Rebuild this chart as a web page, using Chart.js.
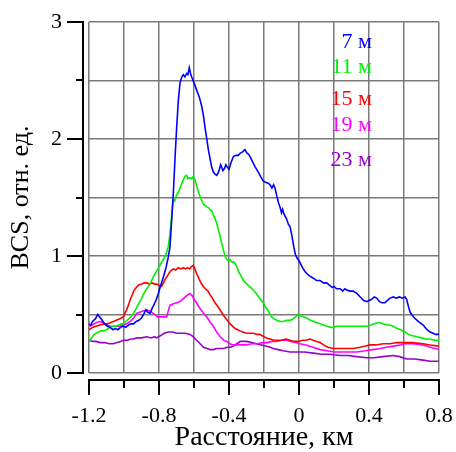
<!DOCTYPE html>
<html>
<head>
<meta charset="utf-8">
<script src="https://cdn.jsdelivr.net/npm/chart.js@4/dist/chart.umd.min.js"></script>
<style>
  body { margin: 0; background: #fff; }
  canvas { display: block; }
</style>
</head>
<body>
<canvas id="bcsChart" width="456" height="452"></canvas>
<script>
// depth labels for each curve
const depthLabels = ["7 м", "11 м", "15 м", "19 м", "23 м"];
const depthColors = ["#0000ff", "#00f000", "#ff0000", "#ff00ff", "#9900cc"];

// distance, km / BCS values
const x7 = [-1.2, -1.19, -1.18, -1.165, -1.15, -1.14, -1.125, -1.11, -1.095, -1.08, -1.063, -1.05, -1.035, -1.02, -1.006, -0.99, -0.975, -0.96, -0.945, -0.93, -0.915, -0.9, -0.885, -0.875, -0.865, -0.851, -0.84, -0.83, -0.815, -0.804, -0.79, -0.775, -0.76, -0.747, -0.737, -0.728, -0.718, -0.708, -0.699, -0.69, -0.68, -0.67, -0.661, -0.652, -0.642, -0.635, -0.627, -0.62, -0.613, -0.6, -0.585, -0.57, -0.556, -0.546, -0.537, -0.527, -0.518, -0.508, -0.499, -0.49, -0.48, -0.47, -0.462, -0.455, -0.448, -0.442, -0.435, -0.425, -0.418, -0.41, -0.4, -0.39, -0.375, -0.36, -0.347, -0.335, -0.322, -0.309, -0.298, -0.288, -0.28, -0.27, -0.26, -0.25, -0.242, -0.23, -0.22, -0.204, -0.19, -0.175, -0.166, -0.155, -0.145, -0.137, -0.128, -0.118, -0.109, -0.1, -0.094, -0.086, -0.072, -0.06, -0.051, -0.04, -0.03, -0.02, -0.01, 0.0, 0.01, 0.02, 0.033, 0.044, 0.06, 0.07, 0.082, 0.1, 0.12, 0.14, 0.158, 0.175, 0.19, 0.2, 0.215, 0.235, 0.25, 0.262, 0.273, 0.29, 0.31, 0.33, 0.35, 0.37, 0.387, 0.4, 0.415, 0.43, 0.444, 0.46, 0.475, 0.491, 0.505, 0.52, 0.539, 0.555, 0.575, 0.59, 0.606, 0.615, 0.625, 0.635, 0.644, 0.66, 0.675, 0.69, 0.71, 0.725, 0.74, 0.749, 0.765, 0.78, 0.8];
const y7 = [0.42, 0.41, 0.44, 0.46, 0.50, 0.48, 0.45, 0.42, 0.40, 0.39, 0.37, 0.38, 0.37, 0.39, 0.40, 0.39, 0.41, 0.42, 0.42, 0.44, 0.45, 0.47, 0.51, 0.54, 0.52, 0.51, 0.55, 0.58, 0.63, 0.68, 0.75, 0.82, 0.90, 0.99, 1.08, 1.30, 1.54, 1.85, 2.10, 2.32, 2.48, 2.53, 2.55, 2.53, 2.56, 2.55, 2.61, 2.56, 2.53, 2.48, 2.42, 2.36, 2.28, 2.20, 2.10, 2.00, 1.91, 1.83, 1.76, 1.72, 1.70, 1.69, 1.71, 1.74, 1.78, 1.76, 1.73, 1.75, 1.78, 1.76, 1.74, 1.79, 1.85, 1.86, 1.86, 1.88, 1.89, 1.91, 1.88, 1.87, 1.85, 1.82, 1.79, 1.76, 1.74, 1.71, 1.68, 1.64, 1.63, 1.62, 1.61, 1.58, 1.61, 1.58, 1.52, 1.46, 1.42, 1.37, 1.40, 1.36, 1.32, 1.27, 1.25, 1.17, 1.08, 1.01, 0.98, 0.96, 0.93, 0.90, 0.87, 0.85, 0.83, 0.82, 0.81, 0.79, 0.79, 0.77, 0.77, 0.75, 0.73, 0.74, 0.72, 0.72, 0.70, 0.72, 0.71, 0.70, 0.70, 0.68, 0.65, 0.62, 0.61, 0.62, 0.63, 0.65, 0.64, 0.61, 0.60, 0.60, 0.62, 0.64, 0.65, 0.64, 0.65, 0.64, 0.65, 0.63, 0.57, 0.52, 0.50, 0.47, 0.45, 0.43, 0.41, 0.38, 0.36, 0.35, 0.34, 0.33, 0.33];

const x11 = [-1.2, -1.185, -1.17, -1.147, -1.13, -1.115, -1.1, -1.08, -1.061, -1.045, -1.03, -1.015, -1.004, -0.99, -0.975, -0.96, -0.947, -0.935, -0.92, -0.905, -0.89, -0.878, -0.865, -0.852, -0.842, -0.83, -0.818, -0.806, -0.794, -0.785, -0.775, -0.762, -0.747, -0.738, -0.73, -0.724, -0.718, -0.71, -0.7, -0.69, -0.68, -0.67, -0.661, -0.652, -0.642, -0.635, -0.625, -0.613, -0.604, -0.594, -0.585, -0.575, -0.566, -0.555, -0.545, -0.535, -0.527, -0.515, -0.505, -0.499, -0.49, -0.48, -0.47, -0.46, -0.45, -0.442, -0.432, -0.422, -0.413, -0.404, -0.394, -0.385, -0.375, -0.366, -0.356, -0.347, -0.335, -0.318, -0.305, -0.29, -0.275, -0.261, -0.245, -0.23, -0.215, -0.204, -0.19, -0.175, -0.165, -0.156, -0.14, -0.125, -0.109, -0.09, -0.07, -0.051, -0.035, -0.02, -0.004, 0.01, 0.025, 0.044, 0.065, 0.085, 0.1, 0.12, 0.14, 0.16, 0.18, 0.196, 0.215, 0.235, 0.255, 0.273, 0.3, 0.33, 0.36, 0.387, 0.41, 0.43, 0.45, 0.463, 0.48, 0.5, 0.52, 0.539, 0.56, 0.58, 0.606, 0.625, 0.645, 0.673, 0.7, 0.725, 0.749, 0.775, 0.8];
const y11 = [0.27, 0.30, 0.33, 0.35, 0.36, 0.36, 0.37, 0.39, 0.40, 0.40, 0.41, 0.42, 0.42, 0.44, 0.46, 0.48, 0.51, 0.54, 0.58, 0.62, 0.67, 0.70, 0.73, 0.76, 0.79, 0.83, 0.86, 0.89, 0.92, 0.95, 0.97, 1.01, 1.08, 1.18, 1.30, 1.40, 1.48, 1.47, 1.52, 1.54, 1.58, 1.62, 1.65, 1.68, 1.69, 1.66, 1.67, 1.66, 1.68, 1.65, 1.60, 1.55, 1.51, 1.47, 1.44, 1.43, 1.42, 1.41, 1.39, 1.39, 1.35, 1.32, 1.28, 1.22, 1.16, 1.11, 1.05, 1.00, 0.97, 0.96, 0.97, 0.95, 0.95, 0.94, 0.91, 0.87, 0.84, 0.79, 0.77, 0.75, 0.73, 0.71, 0.68, 0.65, 0.62, 0.60, 0.56, 0.53, 0.50, 0.48, 0.46, 0.45, 0.44, 0.44, 0.45, 0.45, 0.46, 0.48, 0.50, 0.49, 0.48, 0.47, 0.45, 0.44, 0.43, 0.42, 0.41, 0.40, 0.39, 0.39, 0.40, 0.40, 0.40, 0.40, 0.40, 0.40, 0.40, 0.40, 0.41, 0.42, 0.43, 0.43, 0.42, 0.41, 0.41, 0.40, 0.38, 0.37, 0.35, 0.33, 0.32, 0.31, 0.30, 0.29, 0.29, 0.28, 0.28];

const x15 = [-1.2, -1.18, -1.16, -1.137, -1.115, -1.095, -1.08, -1.061, -1.045, -1.03, -1.015, -1.004, -0.995, -0.985, -0.975, -0.966, -0.955, -0.945, -0.93, -0.918, -0.9, -0.885, -0.87, -0.855, -0.84, -0.825, -0.813, -0.8, -0.785, -0.775, -0.765, -0.756, -0.74, -0.728, -0.718, -0.705, -0.69, -0.675, -0.661, -0.648, -0.635, -0.625, -0.615, -0.604, -0.595, -0.585, -0.57, -0.56, -0.547, -0.535, -0.52, -0.509, -0.495, -0.48, -0.465, -0.451, -0.435, -0.42, -0.405, -0.394, -0.38, -0.365, -0.35, -0.337, -0.32, -0.3, -0.28, -0.26, -0.24, -0.225, -0.213, -0.2, -0.185, -0.165, -0.145, -0.127, -0.1, -0.075, -0.051, -0.03, -0.01, 0.0, 0.02, 0.04, 0.063, 0.08, 0.1, 0.12, 0.14, 0.165, 0.196, 0.23, 0.27, 0.31, 0.35, 0.38, 0.406, 0.44, 0.48, 0.52, 0.56, 0.606, 0.65, 0.71, 0.75, 0.8];
const y15 = [0.37, 0.39, 0.40, 0.41, 0.42, 0.42, 0.43, 0.44, 0.45, 0.46, 0.47, 0.48, 0.51, 0.54, 0.58, 0.62, 0.66, 0.70, 0.73, 0.75, 0.76, 0.77, 0.77, 0.76, 0.77, 0.76, 0.76, 0.75, 0.74, 0.77, 0.80, 0.82, 0.86, 0.88, 0.89, 0.88, 0.90, 0.89, 0.90, 0.89, 0.90, 0.89, 0.91, 0.92, 0.89, 0.85, 0.80, 0.77, 0.74, 0.72, 0.70, 0.67, 0.64, 0.60, 0.57, 0.54, 0.50, 0.47, 0.44, 0.42, 0.40, 0.38, 0.37, 0.36, 0.35, 0.34, 0.34, 0.34, 0.33, 0.33, 0.32, 0.31, 0.30, 0.29, 0.28, 0.28, 0.28, 0.29, 0.28, 0.27, 0.27, 0.27, 0.28, 0.28, 0.29, 0.28, 0.27, 0.26, 0.24, 0.22, 0.21, 0.21, 0.21, 0.21, 0.22, 0.23, 0.24, 0.24, 0.25, 0.25, 0.26, 0.26, 0.26, 0.25, 0.24, 0.23];

const x19 = [-1.2, -1.18, -1.16, -1.137, -1.12, -1.1, -1.08, -1.06, -1.04, -1.023, -1.005, -0.985, -0.966, -0.95, -0.94, -0.928, -0.91, -0.89, -0.87, -0.855, -0.842, -0.825, -0.81, -0.795, -0.775, -0.756, -0.747, -0.737, -0.72, -0.7, -0.68, -0.665, -0.65, -0.635, -0.623, -0.61, -0.6, -0.585, -0.57, -0.555, -0.54, -0.527, -0.51, -0.49, -0.47, -0.45, -0.43, -0.413, -0.395, -0.375, -0.356, -0.33, -0.299, -0.27, -0.24, -0.204, -0.18, -0.155, -0.127, -0.1, -0.07, -0.045, -0.02, 0.006, 0.04, 0.08, 0.12, 0.16, 0.2, 0.234, 0.28, 0.33, 0.38, 0.42, 0.463, 0.5, 0.54, 0.58, 0.606, 0.65, 0.71, 0.75, 0.8];
const y19 = [0.40, 0.41, 0.43, 0.44, 0.43, 0.41, 0.40, 0.40, 0.40, 0.40, 0.41, 0.42, 0.44, 0.46, 0.48, 0.51, 0.52, 0.53, 0.54, 0.53, 0.52, 0.50, 0.48, 0.48, 0.48, 0.48, 0.53, 0.58, 0.59, 0.60, 0.61, 0.63, 0.65, 0.67, 0.68, 0.66, 0.63, 0.60, 0.56, 0.53, 0.50, 0.48, 0.44, 0.40, 0.35, 0.31, 0.28, 0.27, 0.25, 0.24, 0.24, 0.24, 0.24, 0.25, 0.25, 0.26, 0.26, 0.27, 0.27, 0.28, 0.28, 0.27, 0.26, 0.25, 0.24, 0.22, 0.20, 0.19, 0.18, 0.18, 0.18, 0.18, 0.19, 0.20, 0.21, 0.22, 0.23, 0.24, 0.25, 0.25, 0.24, 0.22, 0.20];

const x23 = [-1.2, -1.18, -1.16, -1.137, -1.11, -1.085, -1.061, -1.04, -1.02, -1.004, -0.98, -0.96, -0.947, -0.925, -0.9, -0.87, -0.845, -0.825, -0.813, -0.79, -0.77, -0.747, -0.72, -0.7, -0.68, -0.65, -0.623, -0.605, -0.585, -0.565, -0.545, -0.525, -0.509, -0.49, -0.47, -0.45, -0.432, -0.41, -0.39, -0.375, -0.355, -0.335, -0.318, -0.3, -0.27, -0.242, -0.215, -0.19, -0.165, -0.147, -0.12, -0.09, -0.051, -0.01, 0.03, 0.082, 0.13, 0.18, 0.234, 0.28, 0.33, 0.387, 0.43, 0.48, 0.539, 0.575, 0.615, 0.66, 0.71, 0.75, 0.8];
const y23 = [0.28, 0.27, 0.27, 0.26, 0.26, 0.25, 0.25, 0.26, 0.27, 0.28, 0.28, 0.29, 0.29, 0.30, 0.30, 0.31, 0.30, 0.31, 0.30, 0.32, 0.34, 0.35, 0.35, 0.34, 0.34, 0.34, 0.33, 0.31, 0.28, 0.25, 0.22, 0.21, 0.20, 0.20, 0.21, 0.21, 0.21, 0.22, 0.22, 0.23, 0.25, 0.27, 0.27, 0.27, 0.26, 0.25, 0.24, 0.23, 0.22, 0.21, 0.20, 0.19, 0.18, 0.18, 0.18, 0.17, 0.16, 0.16, 0.15, 0.15, 0.14, 0.13, 0.13, 0.14, 0.15, 0.14, 0.12, 0.12, 0.11, 0.10, 0.10];

// where the depth labels sit (data coords: x of right edge, y of middle)
const labelX = 0.417;
const labelY = [2.83, 2.61, 2.34, 2.12, 1.82];

const xs = [x7, x11, x15, x19, x23];
const ys = [y7, y11, y15, y19, y23];

const serif = "'Liberation Serif', 'DejaVu Serif', serif";

function toPoints(xArr, yArr) {
  return xArr.map((x, i) => ({ x: x, y: yArr[i] }));
}

// axis lines drawn a little away from the plot frame, like the original
const detachedAxes = {
  id: "detachedAxes",
  afterDraw(chart) {
    const ctx = chart.ctx;
    const xs_ = chart.scales.x;
    const ys_ = chart.scales.y;
    const area = chart.chartArea;
    ctx.save();
    ctx.strokeStyle = "#000";
    ctx.lineWidth = 2;

    // y axis
    const ax = area.left - 6;
    ctx.beginPath();
    ctx.moveTo(ax, ys_.getPixelForValue(0) + 1);
    ctx.lineTo(ax, ys_.getPixelForValue(3) - 1);
    for (let v = 0; v <= 3.001; v += 0.5) {
      const py = Math.round(ys_.getPixelForValue(v));
      const major = Math.abs(v - Math.round(v)) < 1e-6;
      ctx.moveTo(ax, py);
      ctx.lineTo(ax - (major ? 16 : 7), py);
    }
    ctx.stroke();

    // x axis
    const ay = area.bottom + 7;
    ctx.beginPath();
    ctx.moveTo(xs_.getPixelForValue(-1.2) - 1, ay);
    ctx.lineTo(xs_.getPixelForValue(0.8) + 1, ay);
    for (let i = 0; i <= 10; i++) {
      const v = -1.2 + i * 0.2;
      const px = Math.round(xs_.getPixelForValue(v));
      ctx.moveTo(px, ay);
      ctx.lineTo(px, ay + (i % 2 === 0 ? 15 : 8));
    }
    ctx.stroke();

    // depth labels
    ctx.font = "22px " + serif;
    ctx.textAlign = "right";
    ctx.textBaseline = "middle";
    depthLabels.forEach((txt, i) => {
      ctx.fillStyle = depthColors[i];
      ctx.fillText(txt, xs_.getPixelForValue(labelX), ys_.getPixelForValue(labelY[i]));
    });
    ctx.restore();
  },
};

const chart = new Chart(document.getElementById("bcsChart").getContext("2d"), {
  type: "line",
  data: {
    datasets: depthLabels.map((label, i) => ({
      label: label,
      data: toPoints(xs[i], ys[i]),
      borderColor: depthColors[i],
      borderWidth: 1.6,
      pointRadius: 0,
      tension: 0,
      fill: false,
    })),
  },
  options: {
    responsive: false,
    animation: false,
    layout: {
      padding: { top: 22, right: 17, left: 0, bottom: 0 },
    },
    plugins: {
      legend: { display: false },
      tooltip: { enabled: false },
    },
    scales: {
      x: {
        type: "linear",
        min: -1.2,
        max: 0.8,
        afterFit(scale) {
          scale.height = 79;
        },
        ticks: {
          stepSize: 0.2,
          autoSkip: false,
          maxRotation: 0,
          padding: 0,
          color: "#000",
          font: { family: serif, size: 22 },
          callback: function (value) {
            const k = Math.round(value * 10);
            if (k % 4 !== 0) return "";
            return k === 0 ? "0" : (k / 10).toFixed(1);
          },
        },
        grid: {
          color: "#7a7a7a",
          lineWidth: 1.5,
          drawTicks: true,
          tickLength: 30,
          tickColor: "rgba(0,0,0,0)",
        },
        border: { display: false },
        title: {
          display: true,
          text: "Расстояние, км",
          color: "#000",
          font: { family: serif, size: 28, lineHeight: 1 },
          padding: { top: 0, bottom: 0 },
        },
      },
      y: {
        min: 0,
        max: 3,
        afterFit(scale) {
          scale.width = 89;
        },
        ticks: {
          stepSize: 0.5,
          padding: 0,
          color: "#000",
          font: { family: serif, size: 22 },
          callback: function (value) {
            return Number.isInteger(value) ? String(value) : "";
          },
        },
        grid: {
          color: "#7a7a7a",
          lineWidth: 1.5,
          drawTicks: true,
          tickLength: 27,
          tickColor: "rgba(0,0,0,0)",
        },
        border: { display: false },
        title: {
          display: true,
          text: "BCS, отн. ед.",
          color: "#000",
          font: { family: serif, size: 26 },
          padding: { top: 6, bottom: 0 },
        },
      },
    },
  },
  plugins: [detachedAxes],
});
</script>
</body>
</html>
